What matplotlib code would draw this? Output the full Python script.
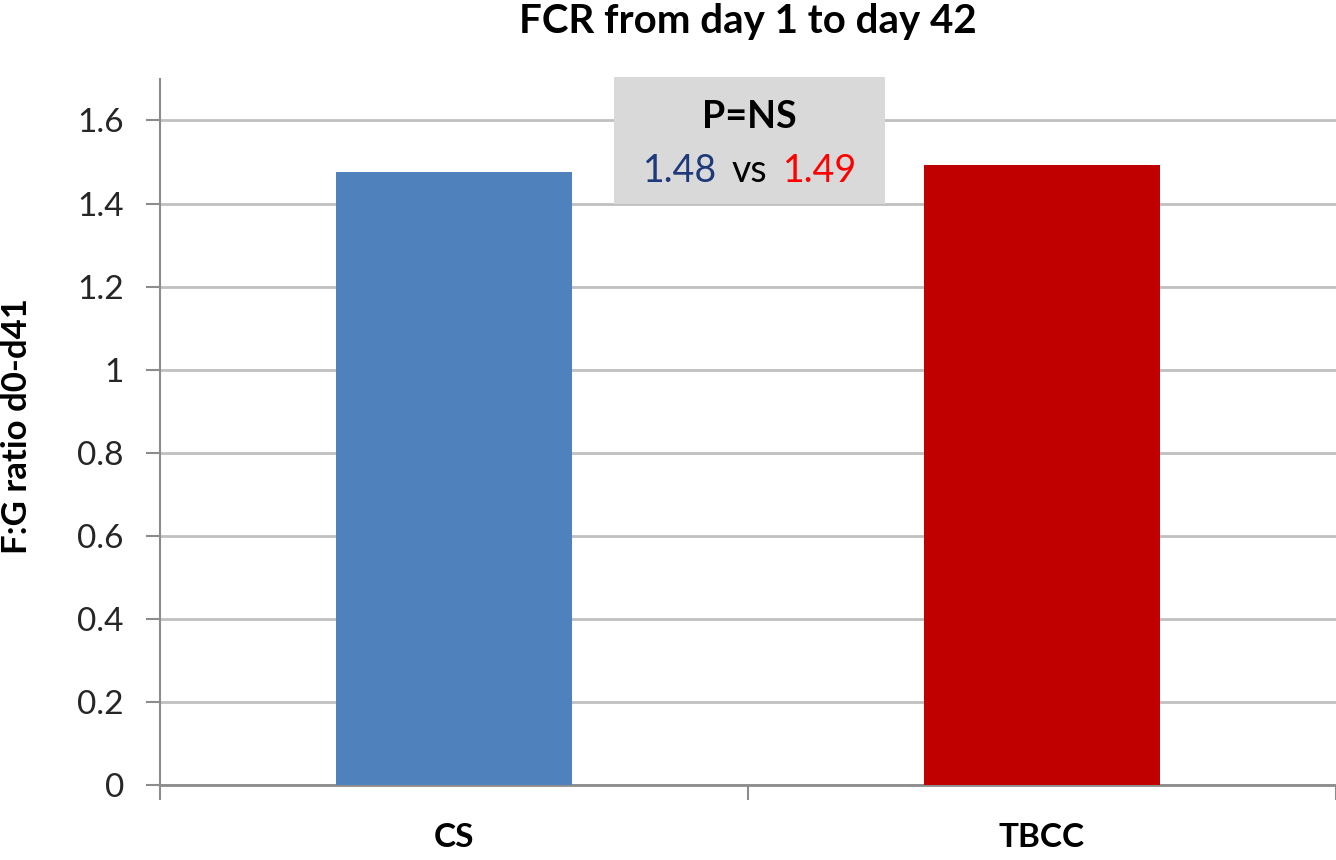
import matplotlib
matplotlib.use("Agg")
import matplotlib.pyplot as plt
from matplotlib.patches import Rectangle

categories = ["CS", "TBCC"]
values = [1.477, 1.492]
bar_colors = ["#4f81bd", "#c00000"]
yticks = [0, 0.2, 0.4, 0.6, 0.8, 1, 1.2, 1.4, 1.6]
ytick_labels = ["0", "0.2", "0.4", "0.6", "0.8", "1", "1.2", "1.4", "1.6"]
title = "FCR from day 1 to day 42"
ylabel = "F:G ratio d0-d41"
box_title = "P=NS"
box_vals = ["1.48", "vs", "1.49"]

plt.rcParams['font.family'] = ['Lato', 'DejaVu Sans']

fig = plt.figure(figsize=(13.36, 8.6), dpi=100)
ax = fig.add_axes([0.1198, 0.0872, 0.8802, 0.8210])

x = list(range(len(categories)))
ax.bar(x, values, width=0.40, color=bar_colors, zorder=3)

ax.set_xlim(-0.5, 1.5)
ax.set_ylim(0, 1.70)
ax.set_yticks(yticks)
ax.set_yticklabels(ytick_labels, fontsize=24, color="#262626")
ax.yaxis.grid(True, color="#c0c0c0", linewidth=2, zorder=0)
ax.set_axisbelow(True)

ax.set_xticks([-0.5, 0.5, 1.5])
ax.set_xticklabels([])
ax.tick_params(axis='x', direction='out', length=11, width=1.5, color="#8c8c8c")
ax.tick_params(axis='y', direction='out', length=10, width=1.5, color="#8c8c8c", pad=16)
for i, c in enumerate(categories):
    ax.text(x[i], -0.149, c, ha='center', va='baseline', fontsize=24,
            fontweight='bold', color="#000000")

for s in ['top', 'right']:
    ax.spines[s].set_visible(False)
ax.spines['left'].set_color("#8c8c8c")
ax.spines['left'].set_linewidth(1.5)
ax.spines['bottom'].set_color("#8c8c8c")
ax.spines['bottom'].set_linewidth(2)

fig.text(0.5598, 0.9616, title, ha='center', va='baseline', fontsize=29, fontweight='bold')
fig.text(0.013, 0.5047, ylabel, ha='center', va='center', rotation=90,
         fontsize=25, fontweight='bold')

# annotation box
ax.add_patch(Rectangle((0.272, 1.40), 0.461, 0.305, facecolor="#d9d9d9",
                       edgecolor='none', zorder=4, clip_on=False))
ax.text(0.503, 1.581, box_title, ha='center', va='baseline', fontsize=27,
        fontweight='bold', color="#000000", zorder=5)
ax.text(0.385, 1.451, box_vals[0], ha='center', va='baseline', fontsize=27,
        color="#1f3a7a", zorder=5)
ax.text(0.502, 1.451, box_vals[1], ha='center', va='baseline', fontsize=27,
        color="#000000", zorder=5)
ax.text(0.623, 1.451, box_vals[2], ha='center', va='baseline', fontsize=27,
        color="#ff0000", zorder=5)

fig.savefig("out.png", dpi=100, facecolor="white")
